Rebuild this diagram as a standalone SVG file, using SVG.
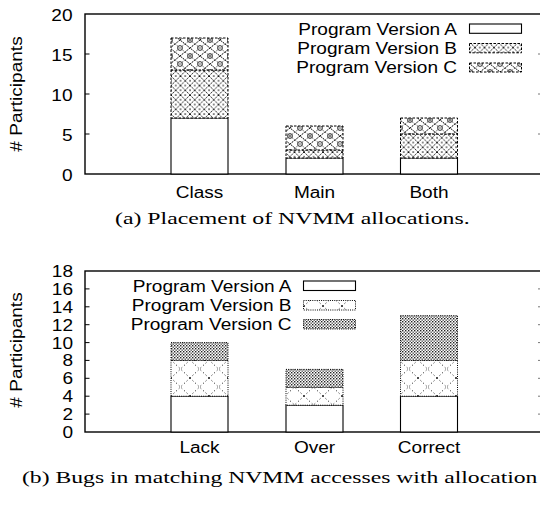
<svg xmlns="http://www.w3.org/2000/svg" width="540" height="506" viewBox="0 0 540 506">
<style>
.t{font-family:"Liberation Sans",Arial,Helvetica,sans-serif;font-size:16px;fill:#000}
.e{text-anchor:end}
.m{text-anchor:middle}
.cap{font-family:"Liberation Serif","Times New Roman",serif;font-size:17.5px;fill:#000}
.frame{fill:none;stroke:#000;stroke-width:1.4}
.tick{stroke:#000;stroke-width:1}
.rtick{stroke:#777;stroke-width:1}
.sa{fill:#fff;stroke:#000;stroke-width:1.1}
.da{stroke:#000;stroke-width:1;stroke-dasharray:2.5 1.5}
.db{stroke:#000;stroke-width:1;stroke-dasharray:1 1.2}
</style>
<defs>
<pattern id="pTopB" patternUnits="userSpaceOnUse" width="9.5" height="9.5">
<rect width="9.5" height="9.5" fill="#fff"/>
<path d="M0,0L9.5,9.5M9.5,0L0,9.5" stroke="#000" stroke-width="0.9" stroke-dasharray="1.6 0.7" fill="none"/>
<rect x="4.1" y="-0.6" width="1.3" height="1.3"/>
<rect x="4.1" y="8.9" width="1.3" height="1.3"/>
<rect x="-0.6" y="4.1" width="1.3" height="1.3"/>
<rect x="8.9" y="4.1" width="1.3" height="1.3"/>
</pattern>
<pattern id="pTopC" patternUnits="userSpaceOnUse" width="20" height="16">
<rect width="20" height="16" fill="#fff"/>
<path d="M0,8L10,0L20,8L10,16Z" fill="none" stroke="#000" stroke-width="1" stroke-dasharray="1.5 0.8"/>
<path d="M0,0L20,16M20,0L0,16" fill="none" stroke="#000" stroke-width="0.8" stroke-dasharray="1 1.2"/>
<circle cx="10" cy="8" r="2.4" fill="#fff" stroke="#000" stroke-width="0.8"/>
<circle cx="0" cy="0" r="2.4" fill="#fff" stroke="#000" stroke-width="0.8"/>
<circle cx="20" cy="0" r="2.4" fill="#fff" stroke="#000" stroke-width="0.8"/>
<circle cx="0" cy="16" r="2.4" fill="#fff" stroke="#000" stroke-width="0.8"/>
<circle cx="20" cy="16" r="2.4" fill="#fff" stroke="#000" stroke-width="0.8"/>
<path d="M8.5,8h3M10,6.5v3M-1.5,0h3M18.5,0h3M-1.5,16h3M18.5,16h3" stroke="#000" stroke-width="0.6"/>
</pattern>
<pattern id="pBotB" patternUnits="userSpaceOnUse" width="19" height="18">
<rect width="19" height="18" fill="#fff"/>
<path d="M0,0L19,18M19,0L0,18" fill="none" stroke="#000" stroke-width="1" stroke-dasharray="1 2.6"/>
</pattern>
<pattern id="pBotC" patternUnits="userSpaceOnUse" width="3" height="3">
<rect width="3" height="3" fill="#fff"/>
<rect x="0" y="0" width="1.4" height="1.4" fill="#222"/>
<rect x="1.5" y="1.5" width="1.4" height="1.4" fill="#555"/>
</pattern>
</defs>

<g id="chart-a-axes">
<rect class="frame" x="85" y="14" width="457.5" height="160"/>
<path class="tick" d="M85,54h4.5M85,94h4.5M85,134h4.5"/>
<path class="rtick" d="M538,54h4.5M538,94h4.5M538,134h4.5"/>
<text class="t e" transform="translate(72.5,20.5) scale(1.19,1)">20</text>
<text class="t e" transform="translate(72.5,60.5) scale(1.19,1)">15</text>
<text class="t e" transform="translate(72.5,100.5) scale(1.19,1)">10</text>
<text class="t e" transform="translate(72.5,140.5) scale(1.19,1)">5</text>
<text class="t e" transform="translate(72.5,180.5) scale(1.19,1)">0</text>
<text class="t m" transform="translate(22,94) rotate(-90) scale(1.19,1)"># Participants</text>
<text class="t m" transform="translate(199.5,198) scale(1.19,1)">Class</text>
<text class="t m" transform="translate(314.5,198) scale(1.19,1)">Main</text>
<text class="t m" transform="translate(429,198) scale(1.19,1)">Both</text>
</g>

<g id="bar-class">
<rect class="sa" x="171" y="118" width="57" height="56"/>
<rect class="da" fill="url(#pTopB)" x="171" y="70" width="57" height="48"/>
<rect class="da" fill="url(#pTopC)" x="171" y="38" width="57" height="32"/>
</g>
<g id="bar-main">
<rect class="sa" x="286" y="158" width="57" height="16"/>
<rect class="da" fill="url(#pTopB)" x="286" y="150" width="57" height="8"/>
<rect class="da" fill="url(#pTopC)" x="286" y="126" width="57" height="24"/>
</g>
<g id="bar-both">
<rect class="sa" x="400.5" y="158" width="57" height="16"/>
<rect class="da" fill="url(#pTopB)" x="400.5" y="134" width="57" height="24"/>
<rect class="da" fill="url(#pTopC)" x="400.5" y="118" width="57" height="16"/>
</g>

<g id="legend-a">
<text class="t e" transform="translate(457,35) scale(1.19,1)">Program Version A</text>
<text class="t e" transform="translate(457,54) scale(1.19,1)">Program Version B</text>
<text class="t e" transform="translate(457,73) scale(1.19,1)">Program Version C</text>
<rect class="sa" x="469.5" y="24" width="52" height="9.3"/>
<rect class="da" fill="url(#pTopB)" x="469.5" y="43.5" width="52" height="9.3"/>
<rect class="da" fill="url(#pTopC)" x="469.5" y="63" width="52" height="9"/>
</g>

<text id="caption-a" class="cap" transform="translate(115,224) scale(1.36,1)">(a) Placement of NVMM allocations.</text>

<g id="chart-b-axes">
<rect class="frame" x="85" y="271" width="457.5" height="161"/>
<path class="tick" d="M85,288.9h4.5M85,306.8h4.5M85,324.7h4.5M85,342.6h4.5M85,360.4h4.5M85,378.3h4.5M85,396.2h4.5M85,414.1h4.5"/>
<path class="rtick" d="M538,288.9h4.5M538,306.8h4.5M538,324.7h4.5M538,342.6h4.5M538,360.4h4.5M538,378.3h4.5M538,396.2h4.5M538,414.1h4.5"/>
<text class="t e" transform="translate(73,277) scale(1.19,1)">18</text>
<text class="t e" transform="translate(73,294.9) scale(1.19,1)">16</text>
<text class="t e" transform="translate(73,312.8) scale(1.19,1)">14</text>
<text class="t e" transform="translate(73,330.7) scale(1.19,1)">12</text>
<text class="t e" transform="translate(73,348.6) scale(1.19,1)">10</text>
<text class="t e" transform="translate(73,366.4) scale(1.19,1)">8</text>
<text class="t e" transform="translate(73,384.3) scale(1.19,1)">6</text>
<text class="t e" transform="translate(73,402.2) scale(1.19,1)">4</text>
<text class="t e" transform="translate(73,420.1) scale(1.19,1)">2</text>
<text class="t e" transform="translate(73,438) scale(1.19,1)">0</text>
<text class="t m" transform="translate(22,350) rotate(-90) scale(1.19,1)"># Participants</text>
<text class="t m" transform="translate(199.5,453) scale(1.19,1)">Lack</text>
<text class="t m" transform="translate(314.5,453) scale(1.19,1)">Over</text>
<text class="t m" transform="translate(429,453) scale(1.19,1)">Correct</text>
</g>

<g id="bar-lack">
<rect class="sa" x="171" y="396.2" width="57" height="35.8"/>
<rect class="db" fill="url(#pBotB)" x="171" y="360.4" width="57" height="35.8"/>
<rect class="db" fill="url(#pBotC)" x="171" y="342.6" width="57" height="17.8"/>
</g>
<g id="bar-over">
<rect class="sa" x="286" y="405.2" width="57" height="26.8"/>
<rect class="db" fill="url(#pBotB)" x="286" y="387.3" width="57" height="17.9"/>
<rect class="db" fill="url(#pBotC)" x="286" y="369.4" width="57" height="17.9"/>
</g>
<g id="bar-correct">
<rect class="sa" x="400.5" y="396.2" width="57" height="35.8"/>
<rect class="db" fill="url(#pBotB)" x="400.5" y="360.4" width="57" height="35.8"/>
<rect class="db" fill="url(#pBotC)" x="400.5" y="315.7" width="57" height="44.7"/>
</g>

<g id="legend-b">
<text class="t e" transform="translate(291.5,292) scale(1.19,1)">Program Version A</text>
<text class="t e" transform="translate(291.5,311) scale(1.19,1)">Program Version B</text>
<text class="t e" transform="translate(291.5,330) scale(1.19,1)">Program Version C</text>
<rect class="sa" x="303.5" y="281" width="52" height="9.5"/>
<rect class="db" fill="url(#pBotB)" x="303.5" y="300.5" width="52" height="9.5"/>
<rect class="db" fill="url(#pBotC)" x="303.5" y="319.5" width="52" height="9.5"/>
</g>

<text id="caption-b" class="cap" transform="translate(22,483) scale(1.36,1)" textLength="379" lengthAdjust="spacingAndGlyphs">(b) Bugs in matching NVMM accesses with allocation</text>
</svg>
